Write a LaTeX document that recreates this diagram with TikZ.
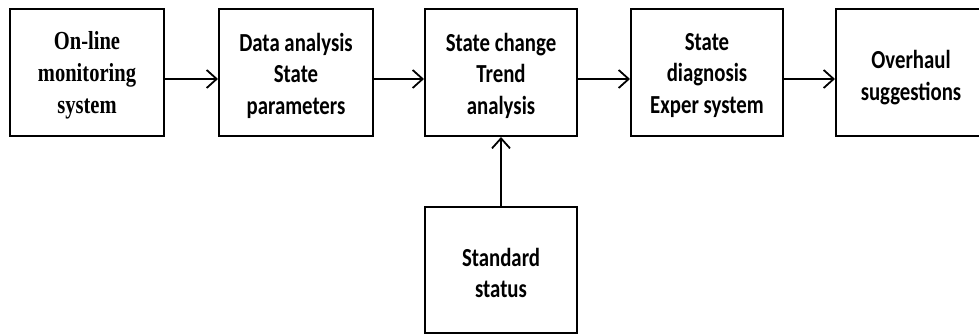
\documentclass[tikz,border=0pt]{standalone}
\usepackage{fontspec}
\usetikzlibrary{arrows.meta}
\newfontfamily\procserif[FakeStretch=0.79]{Liberation Serif}
\newfontfamily\procsans[FakeStretch=0.8]{Carlito}
\tikzset{
  stagebox/.style={draw=black, line width=2pt, rectangle, inner sep=0pt,
    minimum width=152pt, minimum height=127pt},
  sanslabel/.style={align=center, inner sep=0pt,
    font=\procsans\bfseries\fontsize{26}{31.5}\selectfont},
  seriflabel/.style={align=center, inner sep=0pt,
    font=\procserif\bfseries\fontsize{26}{32}\selectfont},
  flow/.style={line width=1.8pt, -{Straight Barb[length=10pt,width=18pt,line width=1.8pt]}},
}
\begin{document}
\begin{tikzpicture}[x=1pt, y=1pt]
  \useasboundingbox (0,0) rectangle (979,336);
  \clip (0,0) rectangle (979,336);
  \fill[white] (0,0) rectangle (979,336);

  % process stages along the top row (the last one runs past the right margin)
  \node[stagebox, minimum width=154pt] (mon)  at (87,263.5) {};
  \node[stagebox, minimum width=154pt] (data) at (296,263.5) {};
  \node[stagebox] (trend) at (501,263.5) {};
  \node[stagebox] (diag)  at (707,263.5) {};
  \node[stagebox, minimum width=160pt] (over) at (916,263.5) {};
  % reference input below the trend stage
  \node[stagebox, minimum height=126pt] (std) at (501,66) {};

  % stage texts
  \node[seriflabel] (monT)  at ([yshift=-3pt]mon.center)   {On-line\\monitoring\\system};
  \node[sanslabel]  (dataT) at ([yshift=-3pt]data.center)  {Data analysis\\State\\parameters};
  \node[sanslabel]  (trendT) at ([yshift=-3pt]trend.center) {State change\\Trend\\analysis};
  \node[sanslabel]  (diagT) at ([yshift=-3pt]diag.center)  {State\\diagnosis\\Exper system};
  \node[sanslabel]  (overT) at ([xshift=-5pt,yshift=-5pt]over.center)  {Overhaul\\suggestions};
  \node[sanslabel]  (stdT)  at ([yshift=-3pt]std.center)   {Standard\\status};

  % connectors
  \draw[flow] ([yshift=-6.5pt]mon.east)   -- ([yshift=-6.5pt]data.west);
  \draw[flow] ([yshift=-6.5pt]data.east)  -- ([yshift=-6.5pt]trend.west);
  \draw[flow] ([yshift=-6.5pt]trend.east) -- ([yshift=-6.5pt]diag.west);
  \draw[flow] ([yshift=-6.5pt]diag.east)  -- ([yshift=-6.5pt]over.west);
  \draw[flow] (std.north) -- (trend.south);
\end{tikzpicture}
\end{document}
